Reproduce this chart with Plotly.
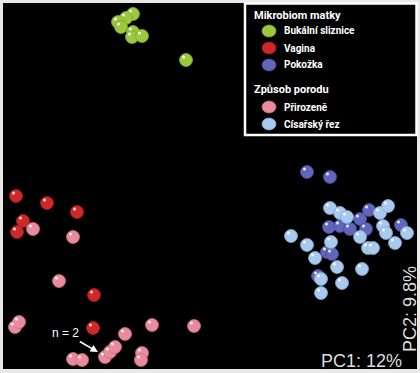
import plotly.graph_objects as go

# PCA scores (PC1 left->right, PC2 top->bottom in image units)
buk_x = [133, 126, 118, 121, 133, 132, 142, 186]
buk_y = [14, 18, 22, 27, 32, 37, 36, 60]

vag_x = [16, 47, 77, 23, 17, 94, 93]
vag_y = [196, 203, 212, 221, 232, 295, 328]

kuz_x = [307, 330, 369, 360, 329, 340, 350, 366, 401, 327, 332, 318]
kuz_y = [172, 177, 210, 219, 227, 226, 229, 229, 225, 252, 254, 276]

pri_x = [33, 73, 59, 15, 19, 125, 152, 194, 73, 82, 105, 110, 115, 142, 141]
pri_y = [229, 237, 281, 327, 322, 334, 325, 326, 359, 360, 357, 352, 347, 353, 360]

cis_x = [330, 340, 347, 380, 388, 383, 291, 307, 331, 360, 368, 373, 386, 395, 407,
         315, 337, 362, 321, 342, 321]
cis_y = [208, 213, 217, 213, 206, 226, 236, 245, 242, 237, 248, 248, 233, 243, 233,
         258, 267, 269, 279, 283, 293]

group_titles = ["Mikrobiom matky", "Způsob porodu"]

series = [
    # name, x, y, color, edge, group index, legend row
    ("Pokožka", kuz_x, kuz_y, "#6266bb", "#4a4d9a", 0, 2),
    ("Císařský řez", cis_x, cis_y, "#a9c9ef", "#86a8d2", 1, 1),
    ("Bukální sliznice", buk_x, buk_y, "#9cc83f", "#7ea82c", 0, 0),
    ("Vagina", vag_x, vag_y, "#d02828", "#a81c1c", 0, 1),
    ("Přirozeně", pri_x, pri_y, "#e98b9c", "#c86e80", 1, 0),
]

W, H = 420, 373
ML, MR, MT, MB = 3, 3, 3, 4
PW, PH = W - ML - MR, H - MT - MB


def fx(px):
    return (px - ML) / PW


def fy(py):
    return 1 - (py - MT) / PH


fig = go.Figure()
for name, xs, ys, col, edge, grp, row in series:
    fig.add_trace(go.Scatter(
        x=xs, y=ys, mode="markers", name=name, showlegend=False,
        marker=dict(size=13, color=col, line=dict(width=0.8, color=edge)),
        hoverinfo="name",
    ))
    # glossy highlight
    fig.add_trace(go.Scatter(
        x=[v - 2.5 for v in xs], y=[v - 3 for v in ys], mode="markers",
        marker=dict(size=3, color="rgba(255,255,255,0.85)"),
        showlegend=False, hoverinfo="skip",
    ))

# ---- legend box (drawn) ----
fig.add_shape(type="rect", xref="paper", yref="paper",
              x0=fx(245), x1=fx(416.5), y0=fy(135), y1=fy(3.5),
              fillcolor="black", line=dict(color="white", width=2.5), layer="above")

lf = "Roboto, Arial, sans-serif"
title_py = [15, 90]
row_py = [[31, 48, 65], [107, 124]]
for gi, gt in enumerate(group_titles):
    fig.add_annotation(xref="paper", yref="paper", x=fx(252), y=fy(title_py[gi]),
                       text=f"<b>{gt}</b>", showarrow=False, xanchor="left", yanchor="middle",
                       font=dict(size=11, color="white", family=lf))
for name, xs, ys, col, edge, grp, row in series:
    py = row_py[grp][row]
    fig.add_shape(type="circle", xref="paper", yref="paper",
                  xsizemode="pixel", ysizemode="pixel",
                  xanchor=fx(269), yanchor=fy(py), x0=-7, x1=7, y0=-6, y1=6,
                  fillcolor=col, line=dict(color=edge, width=0.8), layer="above")
    fig.add_annotation(xref="paper", yref="paper", x=fx(282), y=fy(py),
                       text=f"<b>{name}</b>", showarrow=False, xanchor="left", yanchor="middle",
                       font=dict(size=10, color="white", family=lf))

fig.add_annotation(
    x=98, y=352, xref="x", yref="y", text="n = 2", showarrow=True,
    ax=-33, ay=-19, arrowhead=2, arrowsize=1, arrowwidth=1.5, arrowcolor="white",
    font=dict(size=12, color="white", family="Liberation Sans, Arial, sans-serif"),
)
fig.add_annotation(
    x=404, y=361, xref="x", yref="y", text="PC1: 12%", showarrow=False,
    xanchor="right", yanchor="middle",
    font=dict(size=18, color="#dcdcdc", family="Liberation Sans, Arial, sans-serif"),
)
fig.add_annotation(
    x=410, y=309, xref="x", yref="y", text="PC2: 9.8%", showarrow=False,
    textangle=-90, xanchor="center", yanchor="middle",
    font=dict(size=18, color="#dcdcdc", family="Liberation Sans, Arial, sans-serif"),
)

fig.update_xaxes(range=[ML, W - MR], visible=False, fixedrange=True)
fig.update_yaxes(range=[H - MB, MT], visible=False, fixedrange=True)

fig.update_layout(
    width=W, height=H,
    margin=dict(l=ML, r=MR, t=MT, b=MB),
    paper_bgcolor="#e8e8e8", plot_bgcolor="black",
    showlegend=False,
)

fig.write_html("out.html", config={"displayModeBar": False},
               post_script="document.body.style.margin='0';document.body.style.overflow='hidden';")
